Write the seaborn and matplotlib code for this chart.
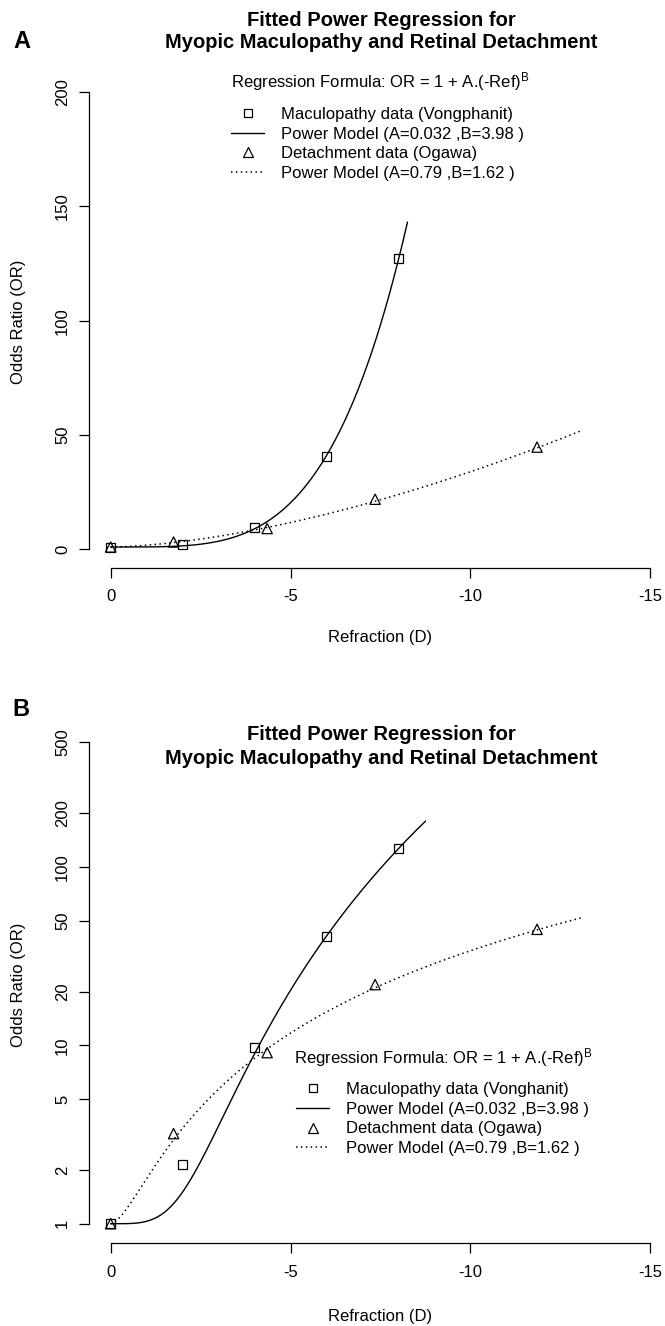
import numpy as np
import pandas as pd
import matplotlib
matplotlib.use("Agg")
import matplotlib.pyplot as plt
import seaborn as sns
from matplotlib.lines import Line2D

# ---- data ----
ref_mac = [0, -2, -4, -6, -8]
or_mac = [1.0, 2.15, 9.7, 40.6, 127.0]
ref_det = [0, -1.75, -4.35, -7.35, -11.85]
or_det = [1.0, 3.2, 9.1, 21.9, 44.7]

# fitted power models OR = 1 + A*(-Ref)^B (parameters from legend)
mac_A, mac_B = 0.032, 3.98
det_A, det_B = 0.79, 1.62
mac_end = {"A": -8.25, "B": -8.75}
det_end = -13.1

x_ticks = [0, -5, -10, -15]
y_ticks_A = [0, 50, 100, 150, 200]
y_ticks_B = [1, 2, 5, 10, 20, 50, 100, 200, 500]

title_lines = ["Fitted Power Regression for", "Myopic Maculopathy and Retinal Detachment"]
legend_title = "Regression Formula: OR = 1 + A.(-Ref)$^{B}$"
labels_A = ["Maculopathy data (Vongphanit)", "Power Model (A=0.032 ,B=3.98 )",
            "Detachment data (Ogawa)", "Power Model (A=0.79 ,B=1.62 )"]
labels_B = ["Maculopathy data (Vonghanit)", "Power Model (A=0.032 ,B=3.98 )",
            "Detachment data (Ogawa)", "Power Model (A=0.79 ,B=1.62 )"]

sns.set_theme(style="ticks")
plt.rcParams['font.family'] = ['Liberation Sans', 'DejaVu Sans']
plt.rcParams['mathtext.fontset'] = 'custom'
plt.rcParams['mathtext.rm'] = 'Liberation Sans'
plt.rcParams['mathtext.it'] = 'Liberation Sans'

W, H = 665, 1326
fig = plt.figure(figsize=(W / 100, H / 100), dpi=100)
fig.patch.set_facecolor("white")


def fx(x):
    return x / W


def fy(y):
    return 1 - y / H


def axes_px(left, top, right, bottom):
    return fig.add_axes([left / W, 1 - bottom / H, (right - left) / W, (bottom - top) / H])


def model_curve(A, B, end):
    x = np.linspace(0, end, 400)
    return x, 1 + A * (-x) ** B


DOT = (0, (1, 2.2))


def draw_panel(ax, mac_stop):
    xm, ym = model_curve(mac_A, mac_B, mac_stop)
    xd, yd = model_curve(det_A, det_B, det_end)
    sns.lineplot(x=xm, y=ym, ax=ax, color="black", linewidth=1.0, sort=False)
    sns.lineplot(x=xd, y=yd, ax=ax, color="black", linewidth=1.1, linestyle=DOT, sort=False)
    sns.scatterplot(x=ref_mac, y=or_mac, ax=ax, marker="s", s=42,
                    facecolors="none", edgecolors="black", linewidths=0.9, zorder=5)
    sns.scatterplot(x=ref_det, y=or_det, ax=ax, marker="^", s=55,
                    facecolors="none", edgecolors="black", linewidths=0.9, zorder=5)
    ax.set_xlim(0.6, -15.6)
    for s in ["top", "right"]:
        ax.spines[s].set_visible(False)
    for s in ["left", "bottom"]:
        ax.spines[s].set_linewidth(0.9)
        ax.spines[s].set_color("black")
    ax.spines["bottom"].set_bounds(0, -15)
    ax.set_xticks(x_ticks)
    ax.set_xticklabels([str(v) for v in x_ticks])
    ax.tick_params(axis="both", length=7.5, width=0.9, color="black",
                   labelsize=12, labelcolor="black", direction="out")
    ax.tick_params(axis="x", pad=8)
    ax.tick_params(axis="y", pad=6)
    ax.set_xlabel("")
    ax.set_ylabel("")
    ax.grid(False)
    ax.set_facecolor("white")


def add_legend(ax, x_left, y_top, labels):
    handles = [
        Line2D([], [], linestyle="none", marker="s", markersize=6.2,
               markerfacecolor="none", markeredgecolor="black", markeredgewidth=0.9),
        Line2D([], [], color="black", linewidth=1.0),
        Line2D([], [], linestyle="none", marker="^", markersize=7,
               markerfacecolor="none", markeredgecolor="black", markeredgewidth=0.9),
        Line2D([], [], color="black", linewidth=1.1, linestyle=DOT),
    ]
    leg = ax.legend(handles, labels, loc="upper left",
                    bbox_to_anchor=(fx(x_left), fy(y_top)), bbox_transform=fig.transFigure,
                    frameon=False, fontsize=12, borderpad=0, borderaxespad=0,
                    handlelength=2.0, handletextpad=1.0, labelspacing=0.28)
    for t in leg.get_texts():
        t.set_color("black")


# ---------------- Panel A ----------------
axA = axes_px(89, 73.7, 672, 567.6)
draw_panel(axA, mac_end["A"])
axA.set_ylim(-8, 208)
axA.spines["left"].set_bounds(0, 200)
axA.set_yticks(y_ticks_A)
axA.set_yticklabels([str(v) for v in y_ticks_A], rotation=90, va="center")
add_legend(axA, 231, 107, labels_A)

# ---------------- Panel B ----------------
axB = axes_px(89, 723, 672, 1243)
draw_panel(axB, mac_end["B"])
axB.set_yscale("log")
axB.set_ylim(10 ** -0.108, 10 ** 2.807)
axB.spines["left"].set_bounds(1, 500)
axB.set_yticks(y_ticks_B)
axB.set_yticklabels([str(v) for v in y_ticks_B], rotation=90, va="center")
axB.yaxis.set_minor_locator(matplotlib.ticker.NullLocator())
add_legend(axB, 296, 1082, labels_B)

# ---------------- text ----------------
for (ty1, ty2) in [(20, 43), (735, 758)]:
    fig.text(fx(381), fy(ty1), title_lines[0], ha="center", va="center",
             fontsize=14.5, fontweight="bold", color="black")
    fig.text(fx(381), fy(ty2), title_lines[1], ha="center", va="center",
             fontsize=14.5, fontweight="bold", color="black")

fig.text(fx(22), fy(41), "A", ha="center", va="center", fontsize=17, fontweight="bold", color="black")
fig.text(fx(21), fy(710), "B", ha="center", va="center", fontsize=17, fontweight="bold", color="black")

fig.text(fx(380), fy(82), legend_title, ha="center", va="center", fontsize=12, color="black")
fig.text(fx(443), fy(1058), legend_title, ha="center", va="center", fontsize=12, color="black")

for yc in [322, 985]:
    fig.text(fx(19), fy(yc), "Odds Ratio (OR)", rotation=90, ha="center", va="center",
             fontsize=12, color="black")
fig.text(fx(380), fy(637), "Refraction (D)", ha="center", va="center", fontsize=12, color="black")
fig.text(fx(380), fy(1317), "Refraction (D)", ha="center", va="center", fontsize=12, color="black")

fig.savefig("out.png", dpi=100, facecolor="white")
